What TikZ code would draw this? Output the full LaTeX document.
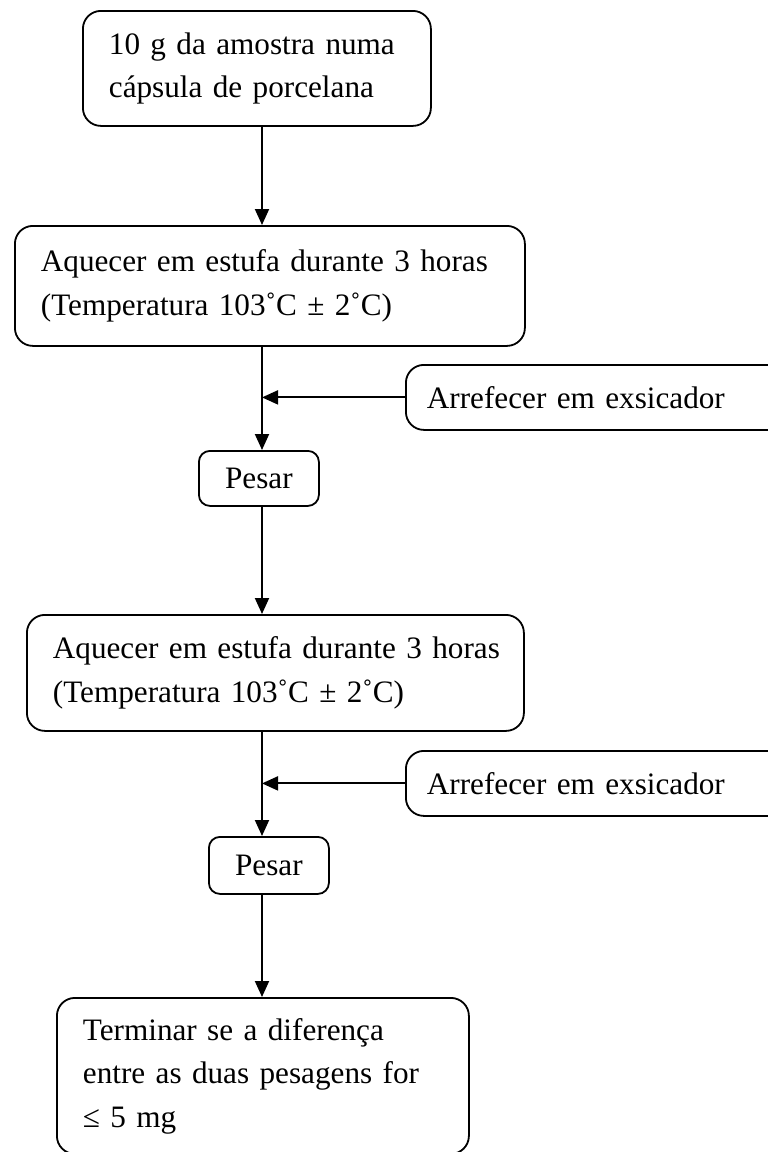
\documentclass[tikz,border=0pt]{standalone}
\usepackage{fontspec}
\setmainfont{Liberation Serif}
\usetikzlibrary{arrows.meta}
\newcommand{\txtline}[1]{\mbox{#1}}
\begin{document}
\begin{tikzpicture}[x=1pt,y=-1pt,
  box/.style={draw,line width=1.8pt,rounded corners=18pt,rectangle,inner xsep=26pt,inner ysep=0pt,align=left,font=\fontsize{31.2}{43.5}\selectfont,anchor=north west},
  small/.style={draw,line width=1.8pt,rounded corners=11pt,rectangle,inner sep=0pt,align=center,font=\fontsize{31.2}{43.5}\selectfont,anchor=north west},
  arr/.style={line width=1.9pt,-{Triangle[length=16pt,width=14pt]}}]
\useasboundingbox (0,0) rectangle (768,1152);
\begin{scope}
\clip (0,0) rectangle (768,1152);
\node[box,text width=296pt,minimum height=115pt] (b1) at (82,10) {\txtline{10 g da amostra numa}\\\txtline{cápsula de porcelana}};
\node[box,text width=458pt,minimum height=120pt] (b2) at (14,225) {\txtline{Aquecer em estufa durante 3 horas}\\\txtline{(Temperatura 103˚C ± 2˚C)}};
\node[box,text width=360pt,minimum height=65pt,inner xsep=21pt] (s1) at (405,364) {\txtline{Arrefecer em exsicador}};
\node[small,minimum width=120pt,minimum height=55pt] (p1) at (198,450) {Pesar};
\node[box,text width=445pt,minimum height=116pt] (b3) at (26,614) {\txtline{Aquecer em estufa durante 3 horas}\\\txtline{(Temperatura 103˚C ± 2˚C)}};
\node[box,text width=360pt,minimum height=65pt,inner xsep=21pt] (s2) at (405,750) {\txtline{Arrefecer em exsicador}};
\node[small,minimum width=120pt,minimum height=57pt] (p2) at (208,836) {Pesar};
\node[box,text width=360pt,minimum height=156pt] (b4) at (56,997) {\txtline{Terminar se a diferença}\\\txtline{entre as duas pesagens for}\\\txtline{≤ 5 mg}};
\coordinate (m) at (262,0);
\draw[arr] (b1.south -| m) -- (b2.north -| m);
\draw[arr] (b2.south -| m) -- (p1.north -| m);
\draw[arr] (s1.west) -- (s1.west -| m);
\draw[arr] (p1.south -| m) -- (b3.north -| m);
\draw[arr] (b3.south -| m) -- (p2.north -| m);
\draw[arr] (s2.west) -- (s2.west -| m);
\draw[arr] (p2.south -| m) -- (b4.north -| m);
\end{scope}
\end{tikzpicture}
\end{document}
